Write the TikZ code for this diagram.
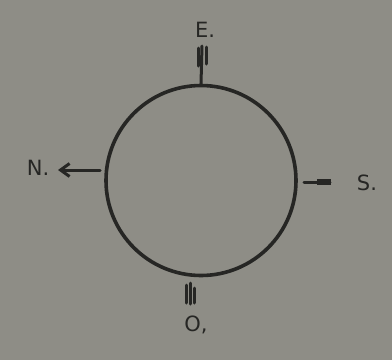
\documentclass[tikz,border=0pt]{standalone}
\usepackage{fontspec}
\setmainfont{DejaVu Sans}
\usetikzlibrary{arrows.meta}
\definecolor{paper}{HTML}{8E8D86}
\definecolor{ink}{HTML}{262624}
\begin{document}
\begin{tikzpicture}[x=1pt,y=-1pt,
  ink line/.style={draw=ink,line width=3pt,line cap=round},
  lbl/.style={text=ink,inner sep=0pt,font=\fontsize{21}{21}\selectfont}]
\fill[paper] (0,0) rectangle (392,360);
\useasboundingbox (0,0) rectangle (392,360);
\node[circle,draw=ink,line width=3.6pt,minimum size=190pt,inner sep=0pt] (c) at (201,180.5) {};
\node[lbl] (e) at (205,30) {E.};
\node[lbl] (n) at (38,168) {N.};
\node[lbl] (s) at (367,183) {S.};
\node[lbl] (o) at (196,325) {O,};
% top mark
\coordinate (t1) at (202,46);
\draw[ink line] (t1) -- (c.north);
\draw[ink line] (198.5,48) -- (198.5,66);
\draw[ink line] (206,47) -- (206,64);
% left arrow
\coordinate (w) at (58,170);
\draw[ink line,-{Straight Barb[length=9pt,width=13pt,line width=3pt]}] (c.west |- 0,170) ++(-4,0) -- (w);
% right mark
\coordinate (r1) at (304,182);
\coordinate (r2) at (330,182);
\draw[ink line] (r1) -- (r2);
\draw[draw=ink,line width=6pt] (317,182) -- (331,182);
% bottom mark
\draw[ink line] (186,285) -- (186,303);
\draw[ink line] (190,283) -- (190,304);
\draw[ink line] (194,288) -- (194,303);
\end{tikzpicture}
\end{document}
